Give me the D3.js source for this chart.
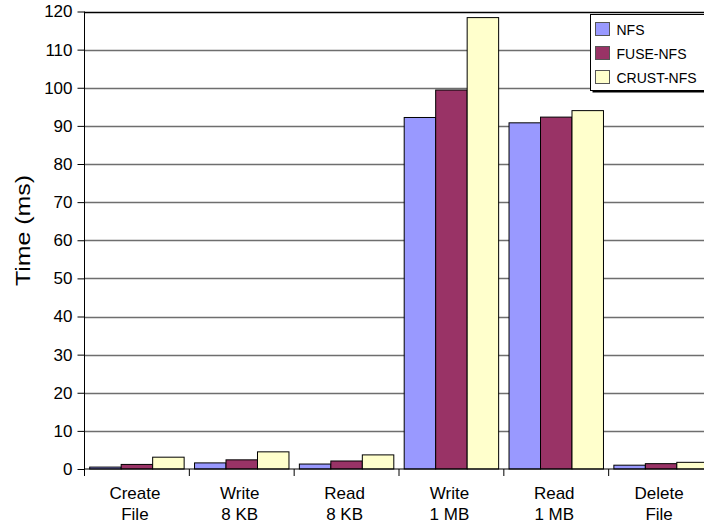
<!DOCTYPE html>
<html>
<head>
<meta charset="utf-8">
<script src="https://cdn.jsdelivr.net/npm/d3@7"></script>
<style>
  html, body { margin: 0; padding: 0; background: #fff; }
  svg { display: block; font-family: "Liberation Sans", Arial, sans-serif; }
</style>
</head>
<body>
<svg id="chart" width="704" height="525"></svg>
<script>
// Operation latencies (ms) for each file system
const categories = [["Create", "File"], ["Write", "8 KB"], ["Read", "8 KB"], ["Write", "1 MB"], ["Read", "1 MB"], ["Delete", "File"]];
const seriesNames = ["NFS", "FUSE-NFS", "CRUST-NFS"];
const nfs      = [0.5, 1.6, 1.3, 92.2, 90.8, 1.0];
const fuseNfs  = [1.2, 2.4, 2.1, 99.4, 92.3, 1.4];
const crustNfs = [3.1, 4.5, 3.7, 118.4, 94.0, 1.75];
const colors = ["#9999ff", "#993366", "#ffffcc"];
const yTicks = [0, 10, 20, 30, 40, 50, 60, 70, 80, 90, 100, 110, 120];

const series = [nfs, fuseNfs, crustNfs];
const svg = d3.select("#chart");

const plotLeft = 84.5, plotRight = 713.5, plotTop = 11.5, plotBottom = 469;

const x = d3.scaleBand().domain(d3.range(categories.length)).range([plotLeft, plotRight]).paddingInner(0).paddingOuter(0);
const inner = d3.scaleBand().domain(d3.range(seriesNames.length)).range([0, x.bandwidth()]).paddingOuter(0.165).paddingInner(0);
const y = d3.scaleLinear().domain([0, 120]).range([plotBottom, plotTop]);

// horizontal grid lines
svg.append("g").selectAll("line").data(yTicks.filter(t => t > 0)).join("line")
  .attr("x1", plotLeft).attr("x2", 704)
  .attr("y1", d => Math.round(y(d)) + 0.5).attr("y2", d => Math.round(y(d)) + 0.5)
  .attr("stroke", d => d === 120 ? "#000" : "#6e6e6e").attr("stroke-width", 1.3);

// bars
const groups = svg.append("g").selectAll("g").data(categories).join("g")
  .attr("transform", (d, i) => `translate(${x(i)},0)`);
groups.selectAll("rect").data((d, i) => series.map((s, k) => ({ k, v: s[i] }))).join("rect")
  .attr("x", d => inner(d.k))
  .attr("width", inner.bandwidth())
  .attr("y", d => y(d.v))
  .attr("height", d => y(0) - y(d.v))
  .attr("fill", d => colors[d.k])
  .attr("stroke", "#000").attr("stroke-width", 1);

// y axis
const yAxis = svg.append("g").attr("transform", `translate(${plotLeft},0)`)
  .call(d3.axisLeft(y).tickValues(yTicks).tickSize(7).tickPadding(5));
yAxis.selectAll("text").attr("font-size", 17).attr("fill", "#000").attr("font-family", "Liberation Sans, Arial, sans-serif");
yAxis.selectAll("line").attr("stroke", "#000");
yAxis.select(".domain").attr("d", `M0,${plotTop}V${plotBottom}`).attr("stroke", "#000");

// x axis with category boundary ticks
const xg = svg.append("g");
xg.append("line").attr("x1", plotLeft).attr("x2", 704).attr("y1", plotBottom).attr("y2", plotBottom).attr("stroke", "#000");
xg.selectAll("line.tick").data(d3.range(categories.length + 1)).join("line").attr("class", "tick")
  .attr("x1", i => plotLeft + i * x.step()).attr("x2", i => plotLeft + i * x.step())
  .attr("y1", plotBottom).attr("y2", plotBottom + 7).attr("stroke", "#000");
const labels = xg.selectAll("text").data(categories).join("text")
  .attr("x", (d, i) => x(i) + x.bandwidth() / 2 - 2)
  .attr("text-anchor", "middle").attr("font-size", 17).attr("fill", "#000");
labels.append("tspan").attr("x", (d, i) => x(i) + x.bandwidth() / 2 - 2).attr("y", 499).text(d => d[0]);
labels.append("tspan").attr("x", (d, i) => x(i) + x.bandwidth() / 2 - 2).attr("y", 520).text(d => d[1]);

// axis title
svg.append("text").attr("transform", "translate(29.5,230.5) rotate(-90)")
  .attr("text-anchor", "middle").attr("font-size", 20)
  .attr("textLength", 111).attr("lengthAdjust", "spacingAndGlyphs")
  .attr("fill", "#000").text("Time (ms)");

// legend
const lg = svg.append("g").attr("transform", "translate(590.5,14.5)");
lg.append("rect").attr("x", 2).attr("y", 2).attr("width", 130).attr("height", 76).attr("fill", "#000");
lg.append("rect").attr("width", 130).attr("height", 76).attr("fill", "#fff").attr("stroke", "#000");
const items = lg.selectAll("g.item").data(seriesNames).join("g").attr("class", "item")
  .attr("transform", (d, i) => `translate(5,${8 + i * 24})`);
items.append("rect").attr("width", 14).attr("height", 13)
  .attr("fill", (d, i) => colors[i]).attr("stroke", "#555");
items.append("text").attr("x", 21).attr("y", 12).attr("font-size", 14).attr("fill", "#000").text(d => d);
</script>
</body>
</html>
